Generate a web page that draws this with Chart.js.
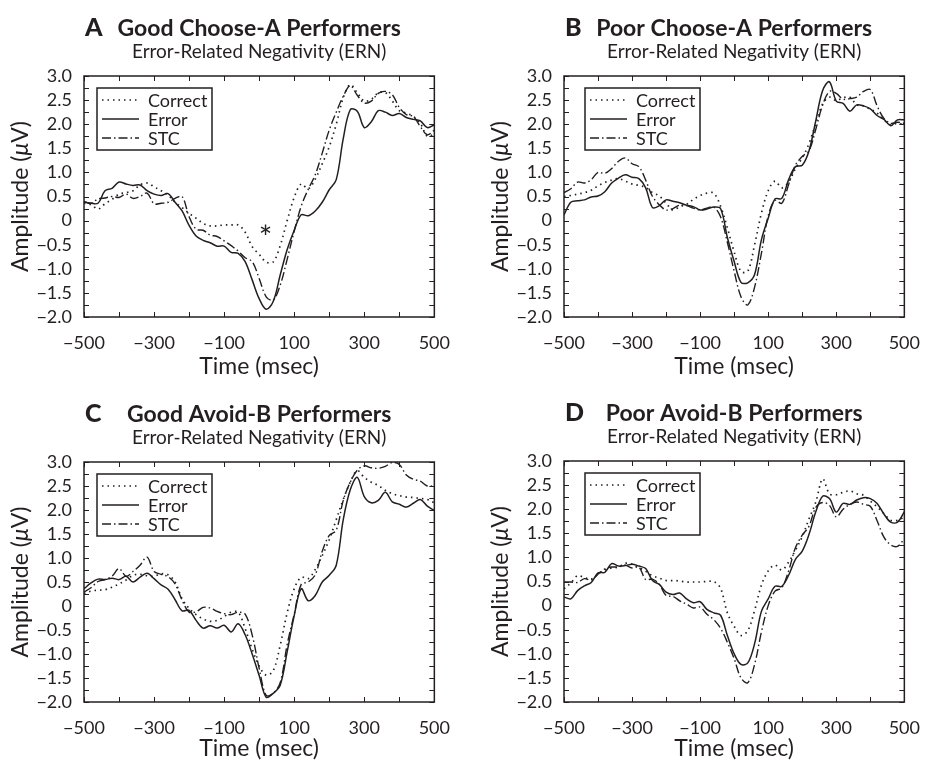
<!DOCTYPE html>
<html>
<head>
<meta charset="utf-8">
<script src="https://cdn.jsdelivr.net/npm/chart.js@4.4.1/dist/chart.umd.min.js"></script>
<style>
  html, body { margin: 0; padding: 0; background: #fff; }
  body { width: 935px; height: 762px; position: relative; overflow: hidden; }
  .panel { position: absolute; }
</style>
</head>
<body>
<div class="panel" style="left:0;top:0;width:465px;height:380px"><canvas id="cA"></canvas></div>
<div class="panel" style="left:480px;top:0;width:455px;height:380px"><canvas id="cB"></canvas></div>
<div class="panel" style="left:0;top:386px;width:465px;height:376px"><canvas id="cC"></canvas></div>
<div class="panel" style="left:480px;top:385px;width:455px;height:377px"><canvas id="cD"></canvas></div>
<script>
// time axis (msec), one sample every 20 ms
const times = [-500, -480, -460, -440, -420, -400, -380, -360, -340, -320,
  -300, -280, -260, -240, -220, -200, -180, -160, -140, -120,
  -100, -80, -60, -40, -20, 0, 20, 40, 60, 80,
  100, 120, 140, 160, 180, 200, 220, 240, 260, 280,
  300, 320, 340, 360, 380, 400, 420, 440, 460, 480, 500];

// A: good choose-A performers
const goodChooseCorrect = [0.36, 0.33, 0.24, 0.35, 0.44, 0.55, 0.58, 0.62, 0.74, 0.78,
  0.70, 0.62, 0.53, 0.38, 0.27, 0.15, 0.05, -0.06, -0.11, -0.11,
  -0.09, -0.09, -0.09, -0.24, -0.54, -0.70, -0.86, -0.86, -0.52, 0.00,
  0.48, 0.76, 0.66, 0.86, 1.18, 1.53, 2.00, 2.55, 2.82, 2.65,
  2.48, 2.52, 2.65, 2.66, 2.48, 2.28, 2.23, 2.16, 2.02, 1.75, 1.80];
const goodChooseError = [0.39, 0.36, 0.36, 0.62, 0.67, 0.80, 0.76, 0.73, 0.74, 0.62,
  0.55, 0.52, 0.56, 0.38, 0.20, -0.10, -0.32, -0.41, -0.46, -0.53,
  -0.53, -0.66, -0.68, -0.85, -1.23, -1.62, -1.84, -1.68, -1.13, -0.60,
  -0.20, 0.12, 0.10, 0.20, 0.38, 0.64, 0.85, 1.70, 2.30, 2.27,
  1.93, 2.05, 2.28, 2.25, 2.18, 2.22, 2.14, 2.10, 2.07, 1.93, 1.99];
const goodChooseStc = [0.39, 0.36, 0.45, 0.47, 0.50, 0.48, 0.55, 0.46, 0.50, 0.57,
  0.35, 0.36, 0.38, 0.46, 0.50, 0.08, -0.18, -0.20, -0.30, -0.33,
  -0.42, -0.52, -0.63, -0.77, -0.85, -1.20, -1.58, -1.65, -1.34, -0.80,
  -0.22, 0.30, 0.65, 0.95, 1.40, 1.88, 2.25, 2.58, 2.80, 2.60,
  2.44, 2.48, 2.64, 2.68, 2.61, 2.35, 2.20, 2.16, 1.95, 1.78, 1.88];

// B: poor choose-A performers
const poorChooseCorrect = [0.50, 0.52, 0.55, 0.58, 0.63, 0.72, 0.79, 0.84, 0.87, 0.82,
  0.76, 0.73, 0.69, 0.58, 0.51, 0.36, 0.22, 0.29, 0.34, 0.44,
  0.52, 0.57, 0.57, 0.30, -0.15, -0.65, -1.05, -1.05, -0.50, 0.15,
  0.62, 0.82, 0.68, 0.80, 1.08, 1.30, 1.60, 2.02, 2.42, 2.56,
  2.49, 2.55, 2.56, 2.40, 2.38, 2.31, 2.23, 2.09, 1.99, 2.02, 1.99];
const poorChooseError = [0.12, 0.38, 0.41, 0.43, 0.49, 0.51, 0.60, 0.78, 0.88, 0.95,
  0.90, 0.87, 0.68, 0.27, 0.31, 0.43, 0.40, 0.37, 0.32, 0.29,
  0.22, 0.24, 0.28, 0.25, -0.35, -0.85, -1.28, -1.29, -1.12, -0.40,
  0.05, 0.45, 0.46, 0.85, 1.12, 1.15, 1.45, 2.08, 2.70, 2.88,
  2.48, 2.43, 2.27, 2.40, 2.38, 2.32, 2.18, 2.10, 1.97, 2.09, 2.09];
const poorChooseStc = [0.58, 0.66, 0.80, 0.78, 0.85, 1.00, 0.98, 1.08, 1.23, 1.30,
  1.18, 1.12, 0.84, 0.50, 0.33, 0.22, 0.25, 0.32, 0.31, 0.26,
  0.22, 0.26, 0.28, 0.08, -0.45, -1.05, -1.58, -1.75, -1.38, -0.68,
  0.10, 0.42, 0.36, 0.75, 1.15, 1.33, 1.45, 1.90, 2.40, 2.68,
  2.64, 2.52, 2.53, 2.56, 2.68, 2.72, 2.38, 2.12, 2.02, 2.04, 2.02];

// C: good avoid-B performers
const goodAvoidCorrect = [0.26, 0.31, 0.33, 0.34, 0.39, 0.46, 0.54, 0.64, 0.66, 0.63,
  0.62, 0.67, 0.65, 0.50, 0.15, -0.05, -0.18, -0.27, -0.32, -0.30,
  -0.22, -0.13, -0.13, -0.47, -0.90, -1.25, -1.44, -1.35, -0.82, -0.14,
  0.36, 0.60, 0.57, 0.76, 1.05, 1.38, 1.80, 2.22, 2.58, 2.82,
  2.68, 2.58, 2.51, 2.41, 2.34, 2.30, 2.27, 2.26, 2.24, 2.22, 2.15];
const goodAvoidError = [0.36, 0.48, 0.56, 0.55, 0.58, 0.55, 0.62, 0.50, 0.60, 0.68,
  0.57, 0.44, 0.35, 0.13, -0.10, -0.09, -0.30, -0.46, -0.41, -0.46,
  -0.40, -0.54, -0.37, -0.60, -1.00, -1.45, -1.90, -1.82, -1.65, -0.95,
  -0.20, 0.36, 0.11, 0.22, 0.50, 0.64, 0.85, 1.80, 2.42, 2.68,
  2.28, 2.15, 2.20, 2.37, 2.17, 2.12, 2.06, 2.14, 2.22, 2.08, 1.99];
const goodAvoidStc = [0.29, 0.38, 0.51, 0.55, 0.62, 0.78, 0.62, 0.72, 0.85, 1.02,
  0.72, 0.66, 0.61, 0.46, 0.12, -0.13, -0.12, -0.03, -0.04, -0.11,
  -0.16, -0.18, -0.13, -0.17, -0.60, -1.30, -1.86, -1.82, -1.60, -0.80,
  -0.17, 0.45, 0.50, 0.65, 1.14, 1.47, 1.58, 2.20, 2.58, 2.83,
  2.92, 2.88, 2.87, 2.91, 2.99, 2.95, 2.73, 2.64, 2.60, 2.50, 2.51];

// D: poor avoid-B performers
const poorAvoidCorrect = [0.35, 0.47, 0.62, 0.58, 0.55, 0.65, 0.74, 0.78, 0.80, 0.88,
  0.86, 0.79, 0.71, 0.62, 0.57, 0.52, 0.52, 0.51, 0.49, 0.49,
  0.49, 0.50, 0.50, 0.36, -0.15, -0.43, -0.62, -0.52, -0.10, 0.42,
  0.72, 0.84, 0.74, 0.90, 1.15, 1.43, 1.80, 2.15, 2.63, 2.32,
  2.30, 2.35, 2.38, 2.32, 2.29, 2.17, 2.05, 1.91, 1.77, 1.77, 1.84];
const poorAvoidError = [0.18, 0.14, 0.31, 0.41, 0.48, 0.68, 0.69, 0.87, 0.82, 0.83,
  0.86, 0.82, 0.77, 0.52, 0.44, 0.28, 0.23, 0.26, 0.14, 0.06,
  0.08, -0.08, -0.15, -0.20, -0.62, -1.00, -1.22, -1.19, -0.79, -0.12,
  0.14, 0.40, 0.40, 0.63, 0.96, 1.13, 1.48, 1.95, 2.27, 2.22,
  1.94, 2.12, 2.10, 2.19, 2.24, 2.22, 2.12, 1.90, 1.73, 1.73, 1.95];
const poorAvoidStc = [0.49, 0.49, 0.48, 0.56, 0.53, 0.65, 0.76, 0.80, 0.80, 0.84,
  0.78, 0.80, 0.54, 0.55, 0.44, 0.21, 0.19, 0.10, 0.03, -0.05,
  -0.03, -0.18, -0.29, -0.47, -0.76, -1.10, -1.50, -1.60, -1.22, -0.55,
  0.00, 0.30, 0.37, 0.72, 1.20, 1.46, 1.65, 2.04, 2.14, 2.08,
  1.84, 2.00, 2.10, 2.15, 2.10, 2.06, 1.76, 1.42, 1.26, 1.23, 1.39];

const seriesNames = ['Correct', 'Error', 'STC'];
const subtitle = 'Error-Related Negativity (ERN)';
const yTitleParts = ['Amplitude (', '\u03BC', 'V)'];
const starMark = { x: 18, y: -0.2 };   // significance asterisk in panel A

const ink = '#231f20';
const font = 'Lato';

const panels = [
  { id: 'cA', letter: 'A', title: 'Good Choose-A Performers', data: [goodChooseCorrect, goodChooseError, goodChooseStc], legendX: 13, padRight: 27, xHeight: 63, star: true },
  { id: 'cB', letter: 'B', title: 'Poor Choose-A Performers', data: [poorChooseCorrect, poorChooseError, poorChooseStc], legendX: 21, padRight: 18, xHeight: 63 },
  { id: 'cC', letter: 'C', title: 'Good Avoid-B Performers', data: [goodAvoidCorrect, goodAvoidError, goodAvoidStc], legendX: 13, padRight: 27, xHeight: 60 },
  { id: 'cD', letter: 'D', title: 'Poor Avoid-B Performers', data: [poorAvoidCorrect, poorAvoidError, poorAvoidStc], legendX: 21, padRight: 18, xHeight: 60 },
];

const lineStyles = [
  { borderDash: [1.5, 4], borderWidth: 1.7 },
  { borderDash: [], borderWidth: 1.5 },
  { borderDash: [9, 3, 1.5, 3], borderWidth: 1.4 },
];

const minus = '\u2212';
function fmtX(v) {
  return v < 0 ? minus + Math.abs(v) : String(v);
}
function fmtY(v) {
  const q = Math.round(v * 4);
  if (q % 2 !== 0) return '';
  if (q === 0) return '0';
  return (v < 0 ? minus : '') + Math.abs(v).toFixed(1);
}

// frame with inward ticks, titles, y title with italic mu, boxed legend, asterisk
const panelDecor = {
  id: 'panelDecor',
  afterDraw(chart, args, opts) {
    const { ctx, chartArea: a, scales: { x, y } } = chart;
    ctx.save();
    ctx.strokeStyle = ink;
    ctx.fillStyle = ink;

    ctx.lineWidth = 1;
    ctx.beginPath();
    x.ticks.forEach(t => {
      const px = Math.round(x.getPixelForValue(t.value)) + 0.5;
      ctx.moveTo(px, a.bottom); ctx.lineTo(px, a.bottom - 5);
      ctx.moveTo(px, a.top); ctx.lineTo(px, a.top + 5);
    });
    y.ticks.forEach(t => {
      const py = Math.round(y.getPixelForValue(t.value)) + 0.5;
      ctx.moveTo(a.left, py); ctx.lineTo(a.left + 5, py);
      ctx.moveTo(a.right, py); ctx.lineTo(a.right - 5, py);
    });
    ctx.stroke();
    ctx.lineWidth = 1.5;
    ctx.strokeRect(a.left, a.top, a.right - a.left, a.bottom - a.top);

    const cx = (a.left + a.right) / 2;
    ctx.textBaseline = 'alphabetic';
    ctx.textAlign = 'left';
    ctx.font = '900 25px ' + font;
    ctx.fillText(opts.letter, a.left + 1, a.top - 40);
    ctx.textAlign = 'center';
    ctx.font = 'bold 23px ' + font;
    ctx.fillText(opts.title, cx, a.top - 40);
    ctx.font = '19px ' + font;
    ctx.fillText(subtitle, cx, a.top - 18);

    // rotated y title
    const fonts = ['23px ' + font, 'italic 23px ' + font, '23px ' + font];
    const widths = yTitleParts.map((s, i) => { ctx.font = fonts[i]; return ctx.measureText(s).width; });
    const total = widths.reduce((s, w) => s + w, 0);
    ctx.save();
    ctx.translate(a.left - 56, (a.top + a.bottom) / 2);
    ctx.rotate(-Math.PI / 2);
    ctx.textAlign = 'left';
    let pos = -total / 2;
    yTitleParts.forEach((s, i) => {
      ctx.font = fonts[i];
      ctx.fillText(s, pos, 0);
      pos += widths[i];
    });
    ctx.restore();

    // legend box
    const bx = a.left + opts.legendX, by = a.top + 12;
    ctx.lineWidth = 1.5;
    ctx.strokeRect(bx, by, 115, 62);
    chart.data.datasets.forEach((ds, i) => {
      const ly = by + 12 + i * 19;
      ctx.setLineDash(ds.borderDash);
      ctx.lineWidth = ds.borderWidth;
      ctx.beginPath();
      ctx.moveTo(bx + 5, ly); ctx.lineTo(bx + 42, ly);
      ctx.stroke();
      ctx.setLineDash([]);
      ctx.font = '18px ' + font;
      ctx.textAlign = 'left';
      ctx.textBaseline = 'middle';
      ctx.fillText(ds.label, bx + 51, ly + 1);
    });

    if (opts.star) {
      ctx.font = '32px ' + font;
      ctx.textAlign = 'center';
      ctx.textBaseline = 'alphabetic';
      ctx.fillText('*', x.getPixelForValue(starMark.x), y.getPixelForValue(starMark.y) + 19);
    }
    ctx.restore();
  }
};

panels.forEach(p => {
  new Chart(document.getElementById(p.id), {
    type: 'line',
    data: {
      datasets: p.data.map((vals, i) => ({
        label: seriesNames[i],
        data: times.map((t, k) => ({ x: t, y: vals[k] })),
        borderColor: ink,
        borderDash: lineStyles[i].borderDash,
        borderWidth: lineStyles[i].borderWidth,
        pointRadius: 0,
        tension: 0.35,
        fill: false,
      })),
    },
    options: {
      responsive: true,
      maintainAspectRatio: false,
      animation: false,
      layout: { padding: { top: 76, right: p.padRight, left: 0, bottom: 0 } },
      plugins: {
        legend: { display: false },
        tooltip: { enabled: false },
        panelDecor: { letter: p.letter, title: p.title, legendX: p.legendX, star: !!p.star },
      },
      scales: {
        x: {
          type: 'linear',
          min: -500,
          max: 500,
          grid: { display: false, drawTicks: false },
          border: { display: false },
          ticks: {
            stepSize: 100,
            autoSkip: false,
            maxRotation: 0,
            padding: 15,
            color: ink,
            font: { family: font, size: 18 },
            callback: v => ((v + 500) % 200 === 0 ? fmtX(v) : ''),
          },
          title: { display: true, text: 'Time (msec)', color: ink, font: { family: font, size: 23 }, padding: { top: 0, bottom: 0 } },
          afterFit: s => { s.height = p.xHeight; },
        },
        y: {
          min: -2,
          max: 3,
          grid: { display: false, drawTicks: false },
          border: { display: false },
          ticks: {
            stepSize: 0.25,
            autoSkip: false,
            padding: 12,
            color: ink,
            font: { family: font, size: 18 },
            callback: v => fmtY(v),
          },
          afterFit: s => { s.width = 84; },
        },
      },
    },
    plugins: [panelDecor],
  });
});
</script>
</body>
</html>
